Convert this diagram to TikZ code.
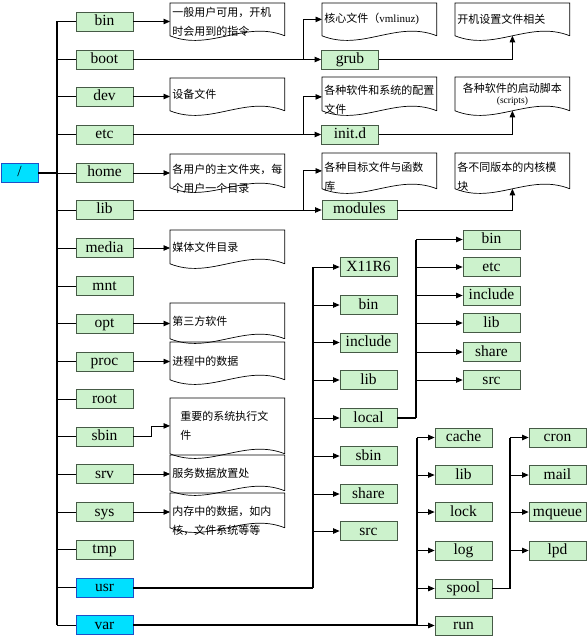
\documentclass[tikz,border=0pt]{standalone}
\usepackage{fontspec}
\setmainfont{Liberation Serif}
\newfontfamily\cjk{Noto Sans CJK SC}
\usetikzlibrary{arrows.meta}
\definecolor{dirgreen}{RGB}{204,242,204}
\definecolor{dirline}{RGB}{70,90,70}
\definecolor{dircyan}{RGB}{0,224,255}
\definecolor{cyanline}{RGB}{30,80,200}
\tikzset{
  dirbox/.style={draw=dirline, fill=dirgreen, line width=0.8pt, minimum width=57pt,
    minimum height=19pt, inner sep=0pt, text height=11pt, text depth=3pt,
    font=\fontsize{15.5}{15.5}\selectfont},
  hotbox/.style={dirbox, draw=cyanline, fill=dircyan},
  memo/.style={anchor=north west, text width=110pt, inner xsep=2pt, inner ysep=0pt,
    minimum height=32pt, align=left, font=\cjk\fontsize{11}{19}\selectfont},
  tip/.style={-{Triangle[length=6.5pt,width=5.5pt]}},
  bus/.style={line width=2pt},
}
\newcommand\memoshape[1]{\draw[line width=0.7pt] (#1.south east) -- (#1.north east) -- (#1.north west) -- (#1.south west) .. controls +(40,16) and +(-40,-16) .. (#1.south east);}
\begin{document}
\begin{tikzpicture}[x=1pt,y=-1pt,line width=0.8pt]
      \useasboundingbox (0,0) rectangle (587,636);
      \coordinate (trunk) at (57,0);
      \coordinate (fork) at (303,0);
      \coordinate (usrbus) at (313,0);
      \coordinate (localbus) at (416,0);
      \coordinate (varbus) at (417,0);
      \coordinate (spoolbus) at (510,0);
      \path
        (19.5,173) node[hotbox, minimum width=37pt] (root){/}
        (104.5,21.5) node[dirbox] (bin){bin}
        (104.5,59.5) node[dirbox] (boot){boot}
        (104.5,96.5) node[dirbox] (dev){dev}
        (104.5,134.5) node[dirbox] (etc){etc}
        (104.5,173) node[dirbox] (home){home}
        (104.5,210) node[dirbox] (lib){lib}
        (104.5,248) node[dirbox] (media){media}
        (104.5,286) node[dirbox] (mnt){mnt}
        (104.5,323.5) node[dirbox] (opt){opt}
        (104.5,361.5) node[dirbox] (proc){proc}
        (104.5,399) node[dirbox] (rootdir){root}
        (104.5,436.5) node[dirbox] (sbin){sbin}
        (104.5,474) node[dirbox] (srv){srv}
        (104.5,512) node[dirbox] (sys){sys}
        (104.5,549.5) node[dirbox] (tmp){tmp}
        (104.5,587.5) node[hotbox] (usr){usr}
        (104.5,625) node[hotbox] (var){var}
        (350,59.5) node[dirbox] (grub){grub}
        (350,134.5) node[dirbox] (initd){init.d}
        (359.5,210) node[dirbox, minimum width=75pt] (modules){modules}
        (368.5,267) node[dirbox] (x11r6){X11R6}
        (368.5,305) node[dirbox] (u-bin){bin}
        (368.5,342.5) node[dirbox] (u-include){include}
        (368.5,380) node[dirbox] (u-lib){lib}
        (368.5,418) node[dirbox] (local){local}
        (368.5,456) node[dirbox] (u-sbin){sbin}
        (368.5,494) node[dirbox] (u-share){share}
        (368.5,531) node[dirbox] (u-src){src}
        (491.5,239.5) node[dirbox] (l-bin){bin}
        (491.5,267) node[dirbox] (l-etc){etc}
        (491.5,295.5) node[dirbox] (l-include){include}
        (491.5,323) node[dirbox] (l-lib){lib}
        (491.5,352) node[dirbox] (l-share){share}
        (491.5,380) node[dirbox] (l-src){src}
        (463.5,437.5) node[dirbox] (cache){cache}
        (463.5,475) node[dirbox] (v-lib){lib}
        (463.5,512) node[dirbox] (lock){lock}
        (463.5,550.5) node[dirbox] (log){log}
        (463.5,588.5) node[dirbox] (spool){spool}
        (463.5,625.5) node[dirbox] (run){run}
        (557.5,437.5) node[dirbox] (cron){cron}
        (557.5,475) node[dirbox] (mail){mail}
        (557.5,512) node[dirbox] (mqueue){mqueue}
        (557.5,550.5) node[dirbox] (lpd){lpd};
      \path
        (170,3) node[memo, text height=11.7pt, text depth=18.3pt] (m-bin){一般用户可用，开机\\时会用到的指令}
        (322,3) node[memo] (m-boot){核心文件（\rmfamily vmlinuz)}
        (455,3) node[memo] (m-grub){开机设置文件相关}
        (170,78) node[memo] (m-dev){设备文件}
        (322,77) node[memo, minimum height=33pt, text height=15.7pt, text depth=14.3pt] (m-etc){各种软件和系统的配置\\文件}
        (455,77) node[memo, minimum height=33pt, align=center, font=\cjk\fontsize{11}{11}\selectfont] (m-initd){各种软件的启动脚本\\{\rmfamily\fontsize{9.5}{9.5}\selectfont (scripts)}}
        (170,154) node[memo, minimum height=33pt, text height=17.7pt, text depth=12.3pt] (m-home){各用户的主文件夹，每\\个用户一个目录}
        (322,153) node[memo, minimum height=35pt, text height=15.7pt, text depth=14.3pt] (m-lib){各种目标文件与函数\\库}
        (455,153) node[memo, minimum height=35pt, text height=15.7pt, text depth=14.3pt] (m-modules){各不同版本的内核模\\块}
        (170,230) node[memo, minimum height=33pt] (m-media){媒体文件目录}
        (170,303) node[memo, minimum height=35pt] (m-opt){第三方软件}
        (170,342) node[memo, minimum height=37pt] (m-proc){进程中的数据}
        (170,398) node[memo, minimum height=55pt, inner xsep=0pt, text width=104pt, xshift=10pt] (m-sbin-text){重要的系统执行文\\件}
        (170,455) node[memo, minimum height=35pt] (m-srv){服务数据放置处}
        (170,493) node[memo, minimum height=34pt, text height=19.7pt, text depth=10.3pt] (m-sys){内存中的数据，如内\\核，文件系统等等};
      \path (170,398) node[memo, minimum height=55pt] (m-sbin){};
      \memoshape{m-bin}
      \memoshape{m-boot}
      \memoshape{m-grub}
      \memoshape{m-dev}
      \memoshape{m-etc}
      \memoshape{m-initd}
      \memoshape{m-home}
      \memoshape{m-lib}
      \memoshape{m-modules}
      \memoshape{m-media}
      \memoshape{m-opt}
      \memoshape{m-proc}
      \memoshape{m-sbin}
      \memoshape{m-srv}
      \memoshape{m-sys}
      \draw[bus] (root.east) -- (root.east -| trunk);
      \draw[bus] (bin.west -| trunk) -- (var.west -| trunk);
      \draw (bin.west -| trunk) -- (bin.west);
      \draw (boot.west -| trunk) -- (boot.west);
      \draw (dev.west -| trunk) -- (dev.west);
      \draw (etc.west -| trunk) -- (etc.west);
      \draw (home.west -| trunk) -- (home.west);
      \draw (lib.west -| trunk) -- (lib.west);
      \draw (media.west -| trunk) -- (media.west);
      \draw (mnt.west -| trunk) -- (mnt.west);
      \draw (opt.west -| trunk) -- (opt.west);
      \draw (proc.west -| trunk) -- (proc.west);
      \draw (rootdir.west -| trunk) -- (rootdir.west);
      \draw (sbin.west -| trunk) -- (sbin.west);
      \draw (srv.west -| trunk) -- (srv.west);
      \draw (sys.west -| trunk) -- (sys.west);
      \draw (tmp.west -| trunk) -- (tmp.west);
      \draw (usr.west -| trunk) -- (usr.west);
      \draw (var.west -| trunk) -- (var.west);
      \draw[bus] (usr.east) -- (usr.east -| usrbus);
      \draw[bus] (x11r6.west -| usrbus) -- (usr.east -| usrbus);
      \draw[bus] (local.east) -- (local.east -| localbus);
      \draw[line width=1.2pt] (l-bin.west -| localbus) -- (local.east -| localbus);
      \draw[bus] (var.east) -- (var.east -| varbus);
      \draw[bus] (cache.west -| varbus) -- (var.east -| varbus);
      \draw[line width=1.2pt] (spool.east) -- (spool.east -| spoolbus);
      \draw[line width=1.2pt] (cron.west -| spoolbus) -- (spool.east -| spoolbus);
      \draw (boot.east) -- (boot.east -| fork);
      \draw (etc.east) -- (etc.east -| fork);
      \draw (lib.east) -- (lib.east -| fork);
      \begin{scope}[tip]
        \draw (bin.east) -- (bin.east -| m-bin.west);
        \draw (dev.east) -- (dev.east -| m-dev.west);
        \draw (home.east) -- (home.east -| m-home.west);
        \draw (media.east) -- (media.east -| m-media.west);
        \draw (opt.east) -- (opt.east -| m-opt.west);
        \draw (proc.east) -- (proc.east -| m-proc.west);
        \draw (sbin.east) -- ++(18,0) |- (m-sbin.west);
        \draw (srv.east) -- (srv.east -| m-srv.west);
        \draw (sys.east) -- (sys.east -| m-sys.west);
        \draw (boot.east -| fork) |- (m-boot.west);
        \draw (boot.east -| fork) -- (grub.west);
        \draw (etc.east -| fork) |- ([yshift=-3pt]m-etc.west);
        \draw (etc.east -| fork) -- (initd.west);
        \draw (lib.east -| fork) |- (m-lib.west);
        \draw (lib.east -| fork) -- (modules.west);
        \draw (grub.east) -| (m-grub.south);
        \draw (initd.east) -| (m-initd.south);
        \draw (modules.east) -| (m-modules.south);
        \draw (x11r6.west -| usrbus) -- (x11r6.west);
        \draw (u-bin.west -| usrbus) -- (u-bin.west);
        \draw (u-include.west -| usrbus) -- (u-include.west);
        \draw (u-lib.west -| usrbus) -- (u-lib.west);
        \draw (local.west -| usrbus) -- (local.west);
        \draw (u-sbin.west -| usrbus) -- (u-sbin.west);
        \draw (u-share.west -| usrbus) -- (u-share.west);
        \draw (u-src.west -| usrbus) -- (u-src.west);
        \draw (l-bin.west -| localbus) -- (l-bin.west);
        \draw (l-etc.west -| localbus) -- (l-etc.west);
        \draw (l-include.west -| localbus) -- (l-include.west);
        \draw (l-lib.west -| localbus) -- (l-lib.west);
        \draw (l-share.west -| localbus) -- (l-share.west);
        \draw (l-src.west -| localbus) -- (l-src.west);
        \draw (cache.west -| varbus) -- (cache.west);
        \draw (v-lib.west -| varbus) -- (v-lib.west);
        \draw (lock.west -| varbus) -- (lock.west);
        \draw (log.west -| varbus) -- (log.west);
        \draw (spool.west -| varbus) -- (spool.west);
        \draw (run.west -| varbus) -- (run.west);
        \draw (cron.west -| spoolbus) -- (cron.west);
        \draw (mail.west -| spoolbus) -- (mail.west);
        \draw (mqueue.west -| spoolbus) -- (mqueue.west);
        \draw (lpd.west -| spoolbus) -- (lpd.west);
      \end{scope}
    \end{tikzpicture}
\end{document}
